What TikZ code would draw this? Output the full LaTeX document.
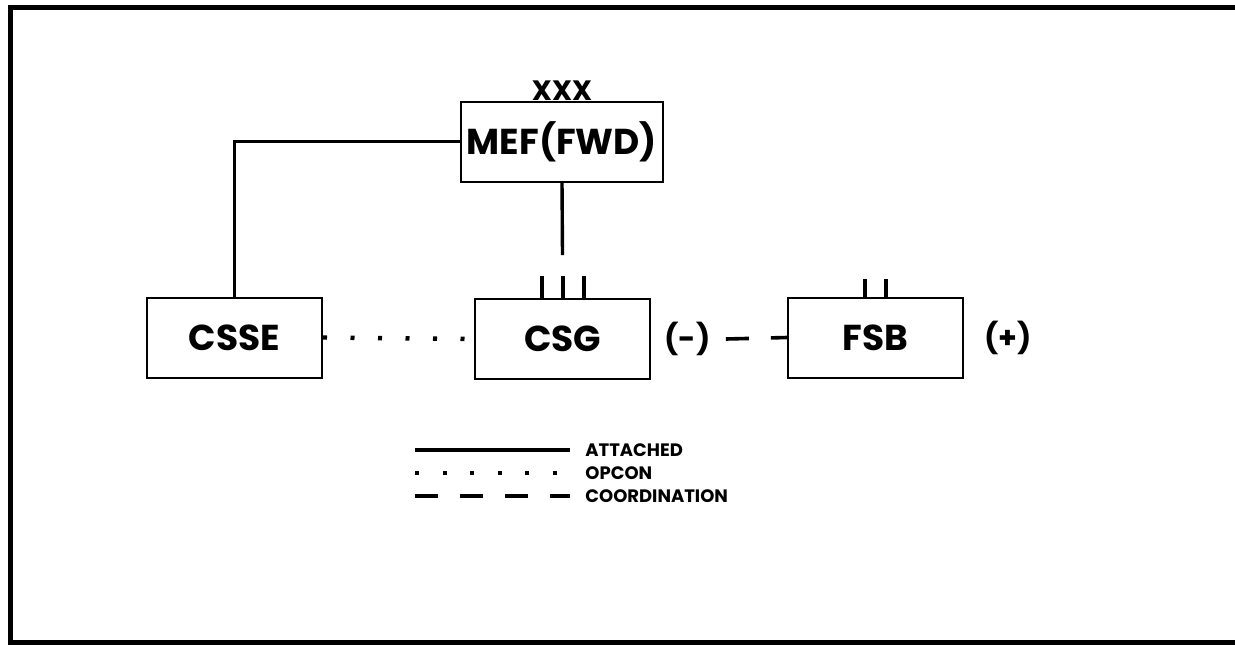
\documentclass[tikz,border=0pt]{standalone}
\usepackage{fontspec}
\setmainfont{Poppins}
\usetikzlibrary{positioning}

\begin{document}
\begin{tikzpicture}[x=0.5pt,y=-0.5pt,
  unit/.style={draw,line width=1pt,minimum width=87.5pt,minimum height=40pt,inner sep=0pt,font=\bfseries\fontsize{18}{20}\selectfont},
  echelon/.style={inner sep=0pt,font=\bfseries\fontsize{14}{16}\selectfont},
  tag/.style={inner sep=0pt,font=\bfseries\fontsize{15}{17}\selectfont},
  key/.style={anchor=west,inner sep=0pt,font=\bfseries\fontsize{9}{11}\selectfont},
  attached/.style={line width=1.7pt},
  opcon/.style={line width=2.2pt,dash pattern=on 2pt off 11.75pt},
  coord/.style={line width=1.8pt,dash pattern=on 11.5pt off 11pt},
  tick/.style={line width=2pt}]
\useasboundingbox (0,0) rectangle (1235,644);
\draw[line width=2.5pt] (1240,7) -| (10,642) -- (1240,642);

\node[unit,minimum width=101pt] (mef) at (562,141.5) {MEF(FWD)};
\node[echelon,above=0pt of mef] (xxx) {XXX};
\node[unit] (csse) at (234.5,337.5) {CSSE};
\node[unit] (csg) at (562.5,339) {CSG};
\node[unit] (fsb) at (875.5,337.5) {FSB};
\node[tag,right=6.5pt of csg] (minus) {(-)};
\node[tag,right=10pt of fsb] (plus) {(+)};
\coordinate (drop) at (562.5,255);

\draw[attached] (csse.north) |- (mef.west);
\draw[attached] (mef.south) -- (drop);
\draw[opcon] (csse.east) -- (csg.west);
\draw[coord] ([xshift=7.5pt]minus.east) -- (fsb.west);
\foreach \dx in {-21,0,21}
  \draw[tick] ([xshift=\dx*0.5pt]csg.north) -- ++(0,-22);
\foreach \dx in {-10.5,10.5}
  \draw[tick] ([xshift=\dx*0.5pt]fsb.north) -- ++(0,-18);

\foreach \y/\kind/\txt in {450/attached/ATTACHED,473/opcon/OPCON,496/coord/COORDINATION}{
  \node[key] (k\kind) at (585,\y) {\txt};
  \coordinate (k\kind0) at (415,\y);
  \draw[\kind] (k\kind0) -- ([xshift=-7.5pt]k\kind.west);
}
\end{tikzpicture}
\end{document}
